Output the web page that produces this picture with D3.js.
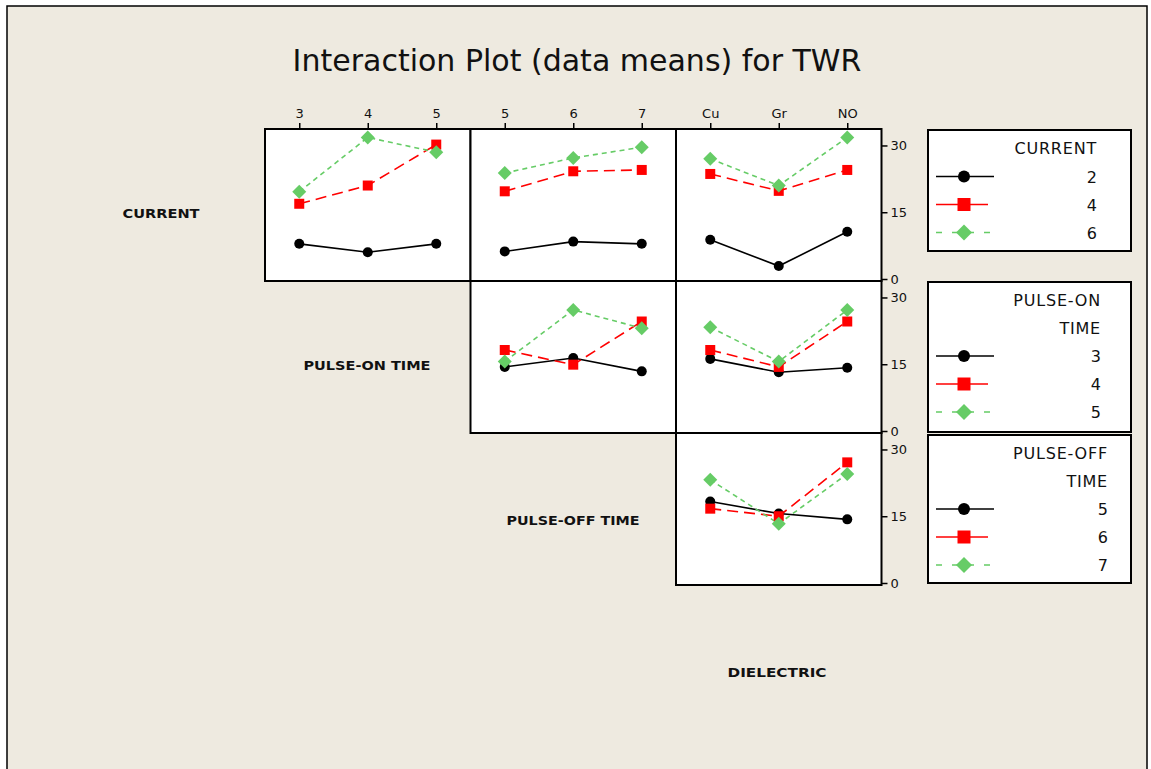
<!DOCTYPE html>
<html>
<head>
<meta charset="utf-8">
<script src="https://cdn.jsdelivr.net/npm/d3@7"></script>
<style>
  html, body { margin: 0; padding: 0; background: #ffffff; }
  svg { display: block; }
</style>
</head>
<body>
<svg id="chart" width="1151" height="769"></svg>
<script>
// Factor levels
const currentLevels = ["2", "4", "6"];
const pulseOnLevels = ["3", "4", "5"];
const pulseOffLevels = ["5", "6", "7"];
const dielectricLevels = ["Cu", "Gr", "NO"];
const yTicks = [0, 15, 30];

// Mean TWR, one row per level of the line factor
const currentByPulseOn = [[7.9, 6.0, 7.9], [16.9, 21.0, 30.2], [19.6, 31.8, 28.5]];
const currentByPulseOff = [[6.2, 8.4, 7.9], [19.7, 24.2, 24.5], [23.8, 27.2, 29.6]];
const currentByDielectric = [[8.8, 2.9, 10.6], [23.6, 19.8, 24.5], [27.0, 21.0, 31.8]];
const pulseOnByPulseOff = [[14.4, 16.4, 13.4], [18.2, 14.9, 24.6], [15.6, 27.2, 23.1]];
const pulseOnByDielectric = [[16.2, 13.2, 14.2], [18.2, 14.4, 24.6], [23.3, 15.6, 27.2]];
const pulseOffByDielectric = [[18.3, 15.6, 14.3], [16.7, 15.0, 27.1], [23.2, 13.3, 24.5]];

const factorNames = ["CURRENT", "PULSE-ON TIME", "PULSE-OFF TIME", "DIELECTRIC"];
const columnLevels = [pulseOnLevels, pulseOffLevels, dielectricLevels];
const legendTitles = [["CURRENT"], ["PULSE-ON", "TIME"], ["PULSE-OFF", "TIME"]];
const legendLevels = [currentLevels, pulseOnLevels, pulseOffLevels];

const panels = [
  { row: 0, col: 0, values: currentByPulseOn },
  { row: 0, col: 1, values: currentByPulseOff },
  { row: 0, col: 2, values: currentByDielectric },
  { row: 1, col: 1, values: pulseOnByPulseOff },
  { row: 1, col: 2, values: pulseOnByDielectric },
  { row: 2, col: 2, values: pulseOffByDielectric }
];

// Series styling
const seriesStyle = [
  { color: "#000000", dash: null, shape: "circle" },
  { color: "#ff0000", dash: "11,6", shape: "square" },
  { color: "#66cc66", dash: "5,4", shape: "diamond" }
];

// Layout
const gridLeft = 265, gridTop = 129, cellW = 205.5, cellH = 152;
const bg = "#eeeae0";
const uiFont = "'DejaVu Sans', Verdana, sans-serif";

const svg = d3.select("#chart");

svg.append("rect")
  .attr("x", 7).attr("y", 6).attr("width", 1140).attr("height", 800)
  .attr("fill", bg).attr("stroke", "#000").attr("stroke-width", 1.5);

svg.append("text")
  .attr("x", 577).attr("y", 71)
  .attr("text-anchor", "middle")
  .attr("font-family", uiFont).attr("font-size", 30)
  .attr("fill", "#111")
  .text("Interaction Plot (data means) for TWR");

function markerPath(shape, s) {
  if (shape === "circle") return d3.symbol(d3.symbolCircle, Math.PI * s * s / 4)();
  if (shape === "square") return d3.symbol(d3.symbolSquare, s * s)();
  const h = s / 2;
  return `M0,${-h}L${h},0L0,${h}L${-h},0Z`;
}

const xScales = columnLevels.map((levels, c) =>
  d3.scalePoint().domain(levels)
    .range([gridLeft + c * cellW, gridLeft + (c + 1) * cellW])
    .padding(0.5));

const yScales = [0, 1, 2].map(r => {
  const top = gridTop + r * cellH, bottom = top + cellH;
  return d3.scaleLinear().domain([-0.45, 33.7]).range([bottom, top]);
});

// Panel frames
panels.forEach(p => {
  svg.append("rect")
    .attr("x", gridLeft + p.col * cellW).attr("y", gridTop + p.row * cellH)
    .attr("width", cellW).attr("height", cellH)
    .attr("fill", "#ffffff").attr("stroke", "#000").attr("stroke-width", 2);
});

// Top axes, one per column
xScales.forEach((xs, c) => {
  const g = svg.append("g")
    .attr("transform", `translate(0,${gridTop})`)
    .call(d3.axisTop(xs).tickSize(6).tickPadding(5));
  g.select(".domain").remove();
  g.selectAll(".tick line").attr("stroke", "#000").attr("stroke-width", 1.5);
  g.selectAll(".tick text").attr("font-family", uiFont).attr("font-size", 13).attr("fill", "#111");
});

// Right axes, one per row
yScales.forEach((ys, r) => {
  const g = svg.append("g")
    .attr("transform", `translate(${gridLeft + 3 * cellW},0)`)
    .call(d3.axisRight(ys).tickValues(yTicks).tickSize(6).tickPadding(3));
  g.select(".domain").remove();
  g.selectAll(".tick line").attr("stroke", "#000").attr("stroke-width", 1.5);
  g.selectAll(".tick text").attr("font-family", uiFont).attr("font-size", 13).attr("fill", "#111");
});

// Series lines and markers
panels.forEach(p => {
  const xs = xScales[p.col], ys = yScales[p.row];
  const levels = columnLevels[p.col];
  const line = d3.line().x((d, i) => xs(levels[i])).y(d => ys(d));
  p.values.forEach((series, k) => {
    const st = seriesStyle[k];
    svg.append("path")
      .attr("d", line(series))
      .attr("fill", "none").attr("stroke", st.color).attr("stroke-width", 1.6)
      .attr("stroke-dasharray", st.dash);
  });
  p.values.forEach((series, k) => {
    const st = seriesStyle[k];
    const size = st.shape === "circle" ? 10 : st.shape === "square" ? 10 : 14;
    svg.selectAll(null).data(series).enter().append("path")
      .attr("d", markerPath(st.shape, size))
      .attr("transform", (d, i) => `translate(${xs(levels[i])},${ys(d)})`)
      .attr("fill", st.color);
  });
});

// Factor names on the diagonal
const nameCenters = [[161, 213], [367, 365], [573, 520], [777, 672]];
const nameWidths = [77, 127, 133, 99];
factorNames.forEach((name, i) => {
  svg.append("text")
    .attr("x", nameCenters[i][0]).attr("y", nameCenters[i][1] + 5)
    .attr("text-anchor", "middle")
    .attr("font-family", uiFont).attr("font-size", 13).attr("font-weight", "bold")
    .attr("textLength", nameWidths[i]).attr("lengthAdjust", "spacingAndGlyphs")
    .attr("fill", "#111")
    .text(name);
});

// Legends
const legendBoxes = [
  { top: 130, bottom: 251, textRight: 1097 },
  { top: 282, bottom: 432, textRight: 1101 },
  { top: 435, bottom: 583, textRight: 1108 }
];
const legendLeft = 928, legendRight = 1131;

legendBoxes.forEach((b, li) => {
  const g = svg.append("g");
  g.append("rect")
    .attr("x", legendLeft).attr("y", b.top)
    .attr("width", legendRight - legendLeft).attr("height", b.bottom - b.top)
    .attr("fill", "#ffffff").attr("stroke", "#000").attr("stroke-width", 2);
  const titles = legendTitles[li];
  titles.forEach((t, j) => {
    g.append("text")
      .attr("x", b.textRight).attr("y", b.top + 24 + j * 27.5)
      .attr("text-anchor", "end")
      .attr("font-family", uiFont).attr("font-size", 16).attr("letter-spacing", 0.8)
      .attr("fill", "#111")
      .text(t);
  });
  const firstRow = b.top + 19 + titles.length * 27.5;
  legendLevels[li].forEach((lv, k) => {
    const y = firstRow + k * 28;
    const st = seriesStyle[k];
    if (k === 1) {
      g.append("line").attr("x1", 936).attr("x2", 988).attr("y1", y).attr("y2", y)
        .attr("stroke", st.color).attr("stroke-width", 1.6);
    } else {
      g.append("line").attr("x1", 936).attr("x2", 994).attr("y1", y).attr("y2", y)
        .attr("stroke", st.color).attr("stroke-width", 1.6)
        .attr("stroke-dasharray", k === 2 ? "6,10" : null);
    }
    const size = st.shape === "circle" ? 12 : st.shape === "square" ? 13 : 16;
    g.append("path").attr("d", markerPath(st.shape, size))
      .attr("transform", `translate(964,${y})`).attr("fill", st.color);
    g.append("text")
      .attr("x", b.textRight).attr("y", y + 6)
      .attr("text-anchor", "end")
      .attr("font-family", uiFont).attr("font-size", 16)
      .attr("fill", "#111")
      .text(lv);
  });
});
</script>
</body>
</html>
